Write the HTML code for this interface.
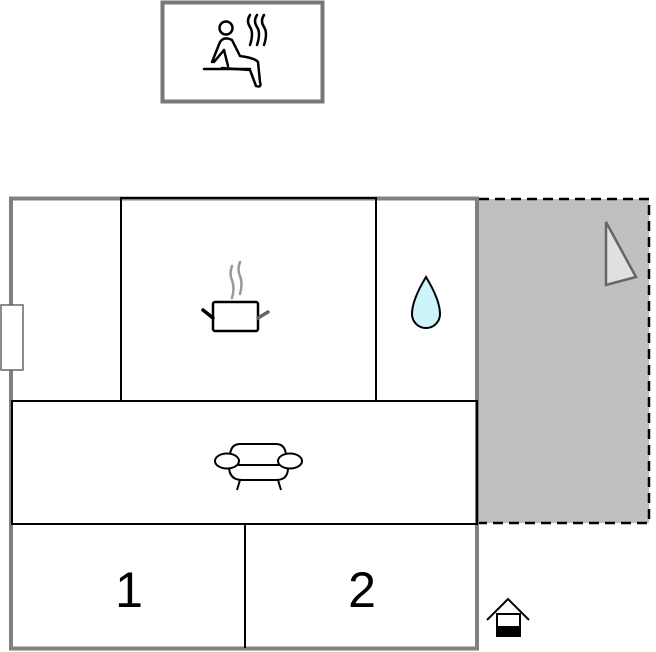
<!DOCTYPE html>
<html><head><style>body{margin:0;background:#fff}</style></head><body>
<svg width="656" height="652" viewBox="0 0 656 652" xmlns="http://www.w3.org/2000/svg" style="display:block">
<rect x="162.5" y="2.5" width="160" height="99" fill="#fff" stroke="#777" stroke-width="4"/>
<g fill="none" stroke="#000" stroke-width="2.5" stroke-linecap="round" stroke-linejoin="round">
<circle cx="226" cy="28" r="6.5"/>
<path d="M212 62 L220 42 Q224 36 232 40 L240 56 Q255 58 258 62 L260 82 Q262 88 256 86 L250 70 L222 68"/>
<path d="M214 62 L224 50 L228 66"/>
<line x1="204" y1="69" x2="250" y2="69"/>
<path d="M250 15 q-4 6 0 12 q4 6 0 18 M257 15 q-4 6 0 12 q4 6 0 18 M264 15 q-4 6 0 12 q4 6 0 18"/>
</g>
<rect x="479" y="199" width="170" height="324" fill="#c0c0c0"/>
<path d="M479 199 H649 V523 H479" fill="none" stroke="#000" stroke-width="2.5" stroke-dasharray="10,6"/>
<polygon points="606,222 636,277 606,285" fill="#e0e0e0" stroke="#666" stroke-width="2.5"/>
<rect x="11" y="198.5" width="466" height="450" fill="#fff" stroke="#808080" stroke-width="4"/>
<line x1="477" y1="198" x2="477" y2="524" stroke="#808080" stroke-width="4"/>
<g fill="none" stroke="#000" stroke-width="2">
<rect x="121" y="198" width="255" height="203"/>
<rect x="12" y="401" width="465" height="123"/>
<line x1="245" y1="524" x2="245" y2="648"/>
</g>
<rect x="1" y="305" width="22" height="65" fill="#fff" stroke="#666" stroke-width="1.5"/>
<g fill="none" stroke-width="2.5" stroke-linecap="round">
<path d="M232 266 q-3 8 0 14 q3 8 0 18 M240 262 q-3 8 0 14 q3 8 0 18" stroke="#999"/>
<rect x="213" y="302" width="45" height="29" rx="2" stroke="#000"/>
<line x1="203" y1="310" x2="213" y2="318" stroke="#000" stroke-width="3.5"/>
<line x1="258" y1="318" x2="268" y2="312" stroke="#666" stroke-width="3.5"/>
</g>
<path d="M426 277 Q412 300 412 314 A14 14 0 0 0 440 314 Q440 300 426 277Z" fill="#cdf3fb" stroke="#000" stroke-width="2"/>
<g fill="none" stroke="#000" stroke-width="2">
<path d="M230 457 Q230 444 240 444 H276 Q286 444 286 457"/>
<ellipse cx="227" cy="461" rx="12" ry="7.5" fill="#fff"/>
<ellipse cx="290" cy="461" rx="12" ry="7.5" fill="#fff"/>
<line x1="238" y1="465" x2="279" y2="465"/>
<path d="M229 468 Q230 480 242 480 H276 Q288 480 288 468"/>
<line x1="240" y1="480" x2="237" y2="490"/><line x1="278" y1="480" x2="281" y2="490"/>
</g>
<text x="129" y="607" font-family="Liberation Sans,sans-serif" font-size="50" text-anchor="middle">1</text>
<text x="362" y="607" font-family="Liberation Sans,sans-serif" font-size="50" text-anchor="middle">2</text>
<path d="M487 620 L508 599 L529 620" fill="none" stroke="#000" stroke-width="2"/>
<rect x="497" y="614" width="23" height="22" fill="#fff" stroke="#000" stroke-width="2"/>
<rect x="496" y="626" width="25" height="11" fill="#000"/>
</svg>
</body></html>
